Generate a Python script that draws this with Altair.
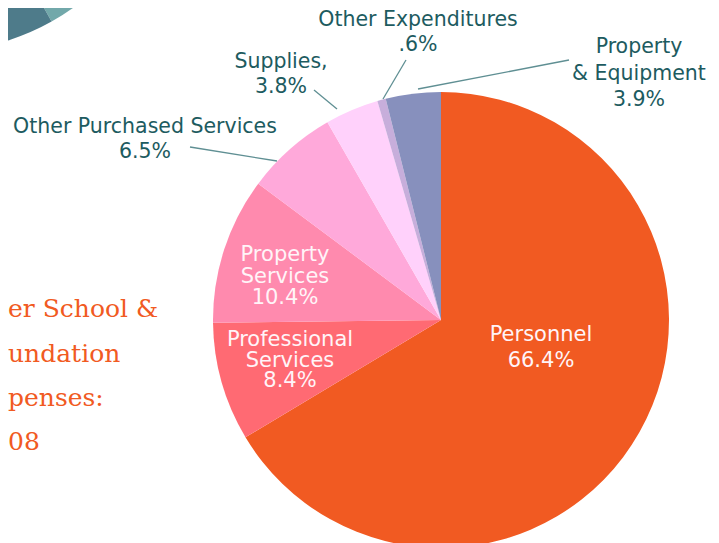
import altair as alt
import pandas as pd

# ---- data ----
categories = ["Personnel", "Professional Services", "Property Services",
              "Other Purchased Services", "Supplies", "Other Expenditures",
              "Property & Equipment"]
shares = [66.4, 8.4, 10.4, 6.5, 3.8, 0.6, 3.9]
colors = ["#F15A22", "#FF6A73", "#FF8AAE", "#FFA9DA", "#FFD1FB", "#C7AEDB", "#8790BD"]

inner_labels = ["Personnel\n66.4%", "Professional\nServices\n8.4%", "Property\nServices\n10.4%"]
outer_labels = ["Other Purchased Services\n6.5%", "Supplies,\n3.8%",
                "Other Expenditures\n.6%", "Property\n& Equipment\n3.9%"]
side_title = ["er School &", "undation", "penses:", "08"]

# decorative neighbouring pie (only a sliver visible), angles in radians
deco_names = ["light", "dark"]
deco_start = [1.60, 2.63]
deco_end = [2.63, 4.20]
deco_colors = ["#72A8AA", "#4E7B8A"]

# ---- layout (pixel positions of annotations) ----
CX, CY, R = 433, 312, 228
inner_pos = [(533, 327, 26), (282, 332, 20.5), (277, 247, 21.5)]
outer_pos = [(137, 119, 25), (273, 54, 25), (410, 12, 25), (631, 39, 26.5)]
leaders = [(182, 139, 269, 153), (306, 82, 329, 101), (398, 52, 375, 91), (561, 52, 410, 81)]
title_y = [301, 346, 390, 434]

pie_df = pd.DataFrame({"cat": categories, "value": shares, "idx": range(len(categories))})

pie = alt.Chart(pie_df).mark_arc(radius=R).encode(
    theta=alt.Theta("value:Q", stack=True),
    color=alt.Color("cat:N", scale=alt.Scale(domain=categories, range=colors), legend=None),
    order=alt.Order("idx:Q"),
    x=alt.value(CX), y=alt.value(CY),
)

deco_df = pd.DataFrame({"t0": deco_start, "t1": deco_end, "c": deco_names})
deco = alt.Chart(deco_df).mark_arc(radius=230).encode(
    theta=alt.Theta("t0:Q", scale=None), theta2="t1:Q",
    fill=alt.Fill("c:N", scale=alt.Scale(domain=deco_names, range=deco_colors), legend=None),
    x=alt.value(-69), y=alt.value(-187),
)

layers = [deco, pie]

for txt, (x, y, lh) in zip(inner_labels, inner_pos):
    layers.append(alt.Chart(pd.DataFrame({"t": [txt]})).mark_text(
        font="DejaVu Sans", fontSize=21, color="#FFF4F8", align="center",
        baseline="middle", lineBreak="\n", lineHeight=lh
    ).encode(text="t:N", x=alt.value(x), y=alt.value(y)))

for txt, (x, y, lh) in zip(outer_labels, outer_pos):
    layers.append(alt.Chart(pd.DataFrame({"t": [txt]})).mark_text(
        font="DejaVu Sans", fontSize=20.5, color="#1D5B60", align="center",
        baseline="middle", lineBreak="\n", lineHeight=lh
    ).encode(text="t:N", x=alt.value(x), y=alt.value(y)))

lead_df = pd.DataFrame(leaders, columns=["x", "y", "x2", "y2"])
layers.append(alt.Chart(lead_df).mark_rule(color="#5F8F93", strokeWidth=1.3).encode(
    x=alt.X("x:Q", scale=None), y=alt.Y("y:Q", scale=None),
    x2="x2:Q", y2="y2:Q"))

title_df = pd.DataFrame({"t": side_title, "y": title_y})
layers.append(alt.Chart(title_df).mark_text(
    font="DejaVu Serif", fontSize=25, color="#F15A22", align="left", baseline="middle"
).encode(text="t:N", x=alt.value(0), y=alt.Y("y:Q", scale=None)))

chart = alt.layer(*layers).resolve_scale(color="independent", fill="independent").properties(
    width=703, height=535, padding=0, autosize=alt.AutoSizeParams(type="none")
).configure_view(stroke=None)

chart.save("out.html", embed_options={"renderer": "svg", "actions": False})
